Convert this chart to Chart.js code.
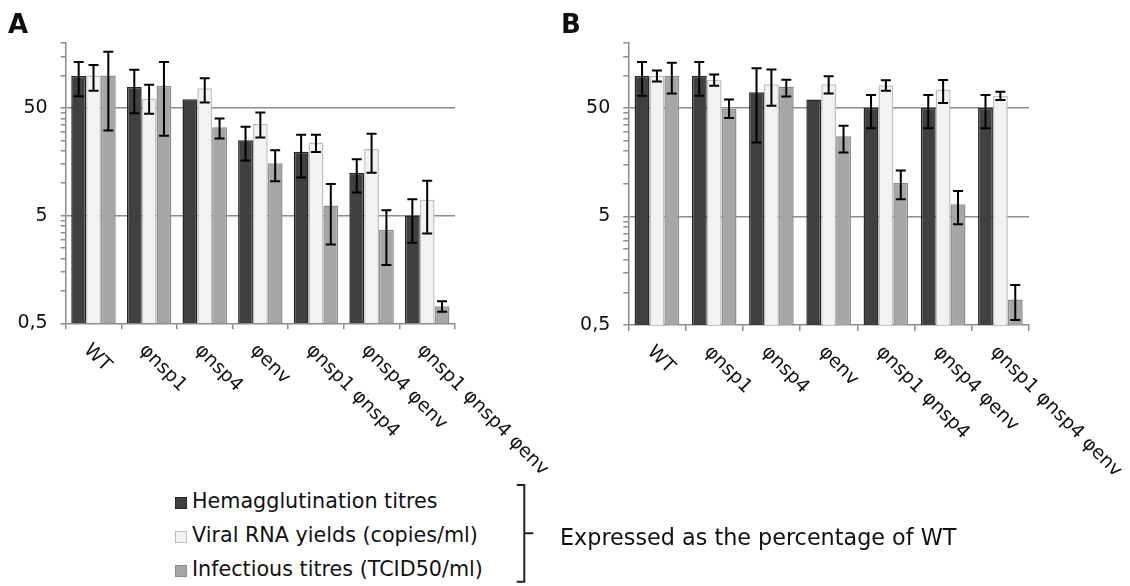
<!DOCTYPE html>
<html>
<head>
<meta charset="utf-8">
<script src="https://cdn.jsdelivr.net/npm/chart.js@4"></script>
<style>
  body { margin: 0; background: #fff; }
  #wrap { position: relative; width: 1130px; height: 586px; overflow: hidden; font-family: "DejaVu Sans", Verdana, sans-serif; color: #111; }
  canvas { position: absolute; top: 0; }
  .panel { position: absolute; top: 9px; font-weight: bold; font-size: 26px; }
  .leg { position: absolute; left: 175px; font-size: 20.7px; line-height: 24px; white-space: nowrap; }
  .leg i { display: inline-block; width: 10px; height: 10px; border: 1.5px solid; margin-right: 5px; vertical-align: -1px; }
  #note { position: absolute; left: 560px; top: 524px; font-size: 22.3px; line-height: 26px; white-space: nowrap; }
</style>
</head>
<body>
<div id="wrap">
  <canvas id="chartA" width="600" height="480" style="left:0"></canvas>
  <canvas id="chartB" width="570" height="480" style="left:560px"></canvas>
  <div class="panel" style="left:8px">A</div>
  <div class="panel" style="left:561px">B</div>
  <div class="leg" style="top:489px"><i style="background:#404040;border-color:#262626"></i>Hemagglutination titres</div>
  <div class="leg" style="top:523px"><i style="background:#f2f2f2;border-color:#bfbfbf"></i>Viral RNA yields (copies/ml)</div>
  <div class="leg" style="top:557px"><i style="background:#a6a6a6;border-color:#8c8c8c"></i>Infectious titres (TCID50/ml)</div>
  <svg width="1130" height="586" style="position:absolute;left:0;top:0">
    <path d="M516.7,485 H524.3 V581.7 H516.7 M524.3,533.3 H533.3" fill="none" stroke="#222" stroke-width="2"/>
  </svg>
  <div id="note">Expressed as the percentage of WT</div>
</div>
<script>
const categories = ['WT', 'φnsp1', 'φnsp4', 'φenv', 'φnsp1 φnsp4', 'φnsp4 φenv', 'φnsp1 φnsp4 φenv'];
const seriesNames = ['Hemagglutination titres', 'Viral RNA yields (copies/ml)', 'Infectious titres (TCID50/ml)'];
const yTickLabels = [0.5, 5, 50];
const yMinorTicks = [1, 1.5, 2, 2.5, 3, 3.5, 4, 4.5, 10, 15, 20, 25, 30, 35, 40, 45, 100, 150, 200];

// panel A
const hemaA   = [99, 78, 60, 25, 19.6, 12.5, 5.0];
const hemaAHi = [133, 113, null, 33.3, 28.1, 16.7, 7.1];
const hemaALo = [64, 44.6, null, 16.2, 11.3, 8.2, 2.8];
const rnaA    = [100, 61, 76, 35.5, 23.8, 20.8, 7.0];
const rnaAHi  = [125, 82, 94, 45.3, 28.1, 28.7, 10.5];
const rnaALo  = [72, 44, 56, 26.5, 19.5, 12.5, 3.4];
const infA    = [100, 80, 33, 15.3, 6.2, 3.7, 0.72];
const infAHi  = [166, 133, 39.8, 20.2, 9.8, 5.6, 0.8];
const infALo  = [30.8, 27.5, 26, 10.4, 2.7, 1.74, 0.64];

// panel B
const hemaB   = [99, 99, 70, 60, 50, 50, 50];
const hemaBHi = [133, 133, 116, null, 66, 66, 66];
const hemaBLo = [65, 65, 24, null, 32.5, 32.5, 32.5];
const rnaB    = [99, 91, 83, 83, 81, 74, 65];
const rnaBHi  = [111, 102, 113, 98, 90, 90.5, 70.7];
const rnaBLo  = [88, 80, 52.5, 68, 72, 55.6, 59.3];
const infB    = [99, 49.3, 79, 27.4, 10.2, 6.5, 0.86];
const infBHi  = [131, 60, 91, 34.4, 13.3, 8.6, 1.17];
const infBLo  = [68, 40.4, 64, 19.5, 7.2, 4.25, 0.556];

const fills = ['#404040', '#f2f2f2', '#a6a6a6'];
const borders = ['#262626', '#bfbfbf', '#8c8c8c'];
const axisGray = '#8c8c8c';

// error bars from the hi/lo arrays
const errorBars = {
  id: 'errorBars',
  afterDatasetsDraw(chart, args, opts) {
    const ctx = chart.ctx;
    const y = chart.scales.y;
    ctx.save();
    ctx.strokeStyle = '#000';
    ctx.lineWidth = 2;
    chart.data.datasets.forEach((ds, d) => {
      const meta = chart.getDatasetMeta(d);
      meta.data.forEach((bar, i) => {
        const hi = opts.hi[d][i], lo = opts.lo[d][i];
        if (hi == null) return;
        const yh = y.getPixelForValue(hi), yl = y.getPixelForValue(lo);
        ctx.beginPath();
        ctx.moveTo(bar.x, yh); ctx.lineTo(bar.x, yl);
        ctx.moveTo(bar.x - 5, yh); ctx.lineTo(bar.x + 5, yh);
        ctx.moveTo(bar.x - 5, yl); ctx.lineTo(bar.x + 5, yl);
        ctx.stroke();
      });
    });
    ctx.restore();
  }
};

// rotated category labels, reading downwards to the right
const slantLabels = {
  id: 'slantLabels',
  afterDraw(chart) {
    const ctx = chart.ctx;
    const x = chart.scales.x;
    ctx.save();
    ctx.fillStyle = '#111';
    ctx.font = '19px "DejaVu Sans"';
    ctx.textAlign = 'left';
    ctx.textBaseline = 'middle';
    chart.data.labels.forEach((lab, i) => {
      ctx.save();
      ctx.translate(x.getPixelForTick(i) - 7, chart.chartArea.bottom + 24);
      ctx.rotate(Math.PI / 4);
      ctx.fillText(lab, 0, 0);
      ctx.restore();
    });
    ctx.restore();
  }
};

function makeChart(id, series, hi, lo, area, catPct) {
  const canvas = document.getElementById(id);
  const xh = 8;
  return new Chart(canvas.getContext('2d'), {
    type: 'bar',
    data: {
      labels: categories,
      datasets: series.map((vals, k) => ({
        label: seriesNames[k],
        data: vals,
        backgroundColor: fills[k],
        borderColor: borders[k],
        borderWidth: 1.5,
        categoryPercentage: catPct,
        barPercentage: 1.0
      }))
    },
    options: {
      responsive: false,
      animation: false,
      layout: {
        padding: {
          left: 0,
          top: area.top,
          right: canvas.width - area.right,
          bottom: canvas.height - area.bottom - xh
        }
      },
      plugins: {
        legend: { display: false },
        tooltip: { enabled: false },
        errorBars: { hi, lo }
      },
      scales: {
        x: {
          grid: { offset: true, drawOnChartArea: false, tickLength: 6, tickColor: axisGray, lineWidth: 1.5 },
          border: { color: axisGray, width: 1.5 },
          ticks: { display: false },
          afterFit(s) { s.height = xh; }
        },
        y: {
          type: 'logarithmic',
          min: 0.5,
          max: 200,
          afterBuildTicks(s) {
            s.ticks = yTickLabels.concat(yMinorTicks).sort((a, b) => a - b).map(v => ({ value: v }));
          },
          afterFit(s) { s.width = area.left; },
          grid: {
            color: c => (c.tick && (c.tick.value === 5 || c.tick.value === 50)) ? axisGray : 'rgba(0,0,0,0)',
            tickColor: axisGray,
            lineWidth: 1.5,
            tickLength: 5
          },
          border: { color: axisGray, width: 1.5 },
          ticks: {
            autoSkip: false,
            padding: 13,
            color: '#111',
            font: { family: 'DejaVu Sans', size: 19 },
            callback: v => yTickLabels.includes(v) ? String(v).replace('.', ',') : ''
          }
        }
      }
    },
    plugins: [errorBars, slantLabels]
  });
}

makeChart('chartA', [hemaA, rnaA, infA], [hemaAHi, rnaAHi, infAHi], [hemaALo, rnaALo, infALo],
  { left: 65.7, right: 455, top: 43, bottom: 323.3 }, 0.8);
makeChart('chartB', [hemaB, rnaB, infB], [hemaBHi, rnaBHi, infBHi], [hemaBLo, rnaBLo, infBLo],
  { left: 68.3, right: 469, top: 42.7, bottom: 325 }, 0.78);
</script>
</body>
</html>
